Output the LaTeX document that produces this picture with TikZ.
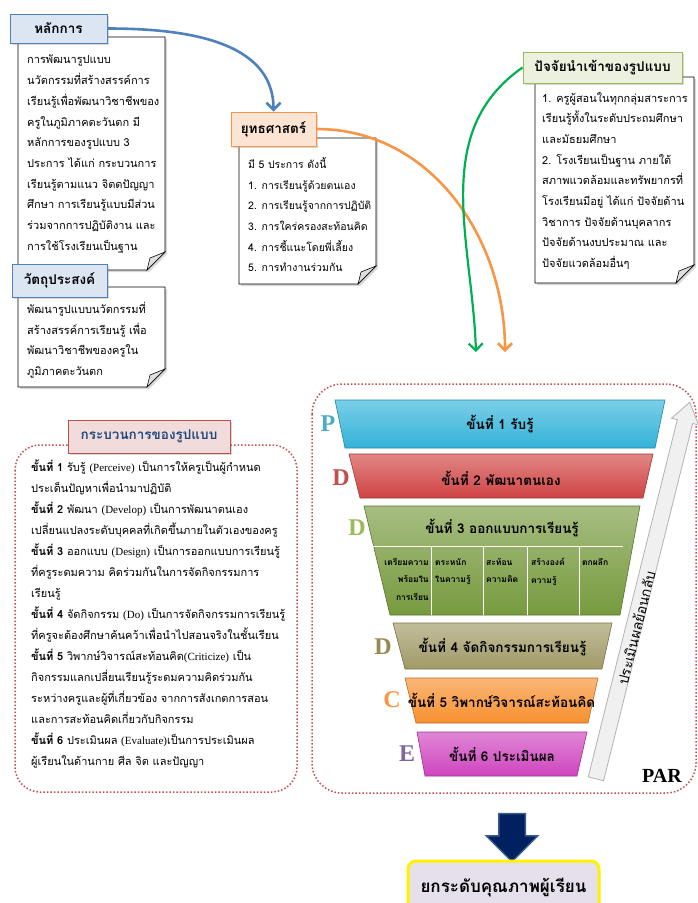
\documentclass[tikz,border=0pt]{standalone}
\usepackage{fontspec}
\setmainfont{Liberation Serif}
\newfontfamily\thaifont[Script=Thai]{Loma}
\usetikzlibrary{positioning,shapes.arrows,arrows.meta,shadows}
\definecolor{hdrblue}{HTML}{DCE6F2}
\definecolor{lineblue}{HTML}{4F81BD}
\definecolor{hdrorange}{HTML}{FCE4D2}
\definecolor{lineorange}{HTML}{F79646}
\definecolor{hdrgreen}{HTML}{EBF1DE}
\definecolor{linegreen}{HTML}{9BBB59}
\definecolor{hdrpink}{HTML}{F2DCDB}
\definecolor{linepink}{HTML}{C0504D}
\definecolor{txtnavy}{HTML}{1F497D}
\definecolor{arrowgreen}{HTML}{00B050}
\definecolor{dotred}{HTML}{C0504D}
\definecolor{stepcyan}{HTML}{33B3D9}
\definecolor{stepred}{HTML}{D04444}
\definecolor{stepgreen}{HTML}{779A3E}
\definecolor{stepolive}{HTML}{A09A66}
\definecolor{steporange}{HTML}{F7902F}
\definecolor{stepmagenta}{HTML}{CF45BF}
\definecolor{ltrcyan}{HTML}{4BACC6}
\definecolor{ltrred}{HTML}{C0504D}
\definecolor{ltrgreen}{HTML}{9BBB59}
\definecolor{ltrolive}{HTML}{948A54}
\definecolor{ltrorange}{HTML}{F79646}
\definecolor{ltrpurple}{HTML}{8064A2}
\definecolor{navy}{HTML}{002060}
\definecolor{navyline}{HTML}{385D8A}
\definecolor{lavender}{HTML}{E6E0EC}
\newcommand{\en}[1]{{\rmfamily #1}}
\newcommand{\notepaper}[4]{%
  \draw[note] (#1,#2) -- (#3,#2) -- (#3,#4-18) -- (#3-18,#4) -- (#1,#4) -- cycle;
  \draw[fold] (#3,#4-18) -- (#3-15,#4-12) -- (#3-18,#4) -- cycle;}

\begin{document}
\begin{tikzpicture}[x=1pt,y=-1pt,
    note/.style={draw=black, line width=0.8pt, fill=white, drop shadow={opacity=0.3,shadow xshift=2pt,shadow yshift=-2pt}},
    fold/.style={draw=black, line width=0.6pt, fill=gray!25},
    notetext/.style={anchor=north west, inner sep=0pt, align=left, font=\thaifont\fontsize{11}{20.7}\selectfont},
    hdr/.style={draw, line width=1pt, inner sep=2pt, font=\thaifont\bfseries\fontsize{13.5}{15}\selectfont, drop shadow={opacity=0.3,shadow xshift=2pt,shadow yshift=-2pt}},
    link/.style={line width=2.6pt, -{Straight Barb[length=7pt,width=14pt]}},
    dotbox/.style={draw=dotred, line width=1.5pt, dotted, rounded corners=25pt},
    layer/.style={draw=#1!75!black, line width=0.6pt, top color=#1!65!white, bottom color=#1},
    steptext/.style={font=\thaifont\bfseries\fontsize{13.5}{15}\selectfont},
    letter/.style={font=\bfseries\fontsize{24}{26}\selectfont},
    cell/.style={inner sep=0pt, font=\thaifont\bfseries\fontsize{8.5}{17.5}\selectfont},
    fbarrow/.style={single arrow, draw=gray!60, fill=gray!12, line width=0.8pt, inner sep=7.5pt, single arrow head extend=6pt, single arrow tip angle=70, minimum height=388pt},
    blockarrow/.style={single arrow, draw=navyline, fill=navy, line width=1.5pt, inner sep=12.5pt, single arrow head extend=12.5pt, minimum height=48pt},
    result/.style={draw=yellow, line width=3pt, fill=lavender, rounded corners=8pt, minimum width=191pt, minimum height=54pt, font=\thaifont\bfseries\fontsize{17}{19}\selectfont}]
\useasboundingbox (0,0) rectangle (698,903);
\fill[white] (0,0) rectangle (698,903);

\notepaper{18}{37}{165}{270}
\notepaper{18}{287}{165}{387}
\notepaper{239}{138}{376}{284}
\notepaper{535}{77}{694}{283}

\node[notetext] (lakbody) at (27,55) {การพัฒนารูปแบบ\\
นวัตกรรมที่สร้างสรรค์การ\\
เรียนรู้เพื่อพัฒนาวิชาชีพของ\\
ครูในภูมิภาคตะวันตก  มี\\
หลักการของรูปแบบ 3\\
ประการ  ได้แก่ กระบวนการ\\
เรียนรู้ตามแนว  จิตตปัญญา\\
ศึกษา การเรียนรู้แบบมีส่วน\\
ร่วมจากการปฏิบัติงาน และ\\
การใช้โรงเรียนเป็นฐาน};
\node[notetext] (watbody) at (27,302) {พัฒนารูปแบบนวัตกรรมที่\\
สร้างสรรค์การเรียนรู้ เพื่อ\\
พัฒนาวิชาชีพของครูใน\\
ภูมิภาคตะวันตก};
\node[notetext, font=\thaifont\fontsize{10.5}{20.7}\selectfont] (yutbody) at (248,157) {มี 5 ประการ ดังนี้\\
1. การเรียนรู้ด้วยตนเอง\\
2. การเรียนรู้จากการปฏิบัติ\\
3. การใคร่ครองสะท้อนคิด\\
4. การชี้แนะโดยพี่เลี้ยง\\
5. การทำงานร่วมกัน};
\node[notetext] (patbody) at (542,92) {1. ครูผู้สอนในทุกกลุ่มสาระการ\\
เรียนรู้ทั้งในระดับประถมศึกษา\\
และมัธยมศึกษา\\
2. โรงเรียนเป็นฐาน ภายใต้\\
สภาพแวดล้อมและทรัพยากรที่\\
โรงเรียนมีอยู่ ได้แก่ ปัจจัยด้าน\\
วิชาการ ปัจจัยด้านบุคลากร\\
ปัจจัยด้านงบประมาณ และ\\
ปัจจัยแวดล้อมอื่นๆ};

\node[hdr, fill=hdrblue, draw=lineblue, minimum width=97pt, minimum height=29pt] (lak) at (58.5,28.5) {หลักการ};
\node[hdr, fill=hdrblue, draw=lineblue, minimum width=95pt, minimum height=33pt] (wat) at (59.5,280.5) {วัตถุประสงค์};
\node[hdr, fill=hdrorange, draw=lineorange, minimum width=85pt, minimum height=34pt] (yut) at (273.5,129) {ยุทธศาสตร์};
\node[hdr, fill=hdrgreen, draw=linegreen, minimum width=159pt, minimum height=31pt] (pat) at (602.5,67.5) {ปัจจัยนำเข้าของรูปแบบ};

\coordinate (gend) at (476,352);
\coordinate (oend) at (505,352);
\draw[link, lineblue] (lak.east) to[out=0, in=90] (yut.north);
\draw[link, lineorange] (yut.east) to[out=0, in=90] (oend);
\draw[link, arrowgreen, line width=2.2pt] (pat.west) to[out=215, in=92] (gend);

\draw[dotbox] (15,445) rectangle (297,792);
\draw[dotbox, rounded corners=30pt] (312,384) rectangle (696,793);
\node[hdr, fill=hdrpink, draw=linepink, text=txtnavy, minimum width=162pt, minimum height=33pt] (krab) at (149,436.5) {กระบวนการของรูปแบบ};
\node[notetext, font=\thaifont\fontsize{11}{21}\selectfont] (krabbody) at (31,460) {\textbf{ขั้นที่ 1}  รับรู้  \en{(Perceive)} เป็นการให้ครูเป็นผู้กำหนด\\
ประเด็นปัญหาเพื่อนำมาปฏิบัติ\\
\textbf{ขั้นที่ 2} พัฒนา \en{(Develop)} เป็นการพัฒนาตนเอง\\
เปลี่ยนแปลงระดับบุคคลที่เกิดขึ้นภายในตัวเองของครู\\
\textbf{ขั้นที่ 3} ออกแบบ \en{(Design)} เป็นการออกแบบการเรียนรู้\\
ที่ครูระดมความ คิดร่วมกันในการจัดกิจกรรมการ\\
เรียนรู้\\
\textbf{ขั้นที่ 4} จัดกิจกรรม \en{(Do)} เป็นการจัดกิจกรรมการเรียนรู้\\
ที่ครูจะต้องศึกษาค้นคว้าเพื่อนำไปสอนจริงในชั้นเรียน\\
\textbf{ขั้นที่ 5} วิพากษ์วิจารณ์สะท้อนคิด\en{(Criticize)} เป็น\\
กิจกรรมแลกเปลี่ยนเรียนรู้ระดมความคิดร่วมกัน\\
ระหว่างครูและผู้ที่เกี่ยวข้อง จากการสังเกตการสอน\\
และการสะท้อนคิดเกี่ยวกับกิจกรรม\\
\textbf{ขั้นที่ 6} ประเมินผล \en{(Evaluate)}เป็นการประเมินผล\\
ผู้เรียนในด้านกาย ศีล จิต และปัญญา};

\node[fbarrow, rotate=76] (fb) at (641.5,596) {};
\node[rotate=76, inner sep=0pt, font=\thaifont\fontsize{14}{15}\selectfont] (fbtxt) at (636,628) {ประเมินผลย้อนกลับ};

\foreach \n/\yt/\yb/\xa/\xb/\xc/\xd/\ty/\col/\lx/\ltr/\lc/\txt in {
  1/400/448/335/665/345/655/424/stepcyan/328/P/ltrcyan/ขั้นที่ 1 รับรู้,
  2/454/498/349/653/360/643/478/stepred/341/D/ltrred/ขั้นที่ 2 พัฒนาตนเอง,
  3/506/615/364/640/390/620/528/stepgreen/357/D/ltrgreen/ขั้นที่ 3 ออกแบบการเรียนรู้,
  4/623/669/393/612/405/602/647/stepolive/383/D/ltrolive/ขั้นที่ 4 จัดกิจกรรมการเรียนรู้,
  5/678/723/405/598/416/588/700/steporange/392/C/ltrorange/ขั้นที่ 5 วิพากษ์วิจารณ์สะท้อนคิด,
  6/732/776/417/587/425/577/754/stepmagenta/407/E/ltrpurple/ขั้นที่ 6 ประเมินผล}{
  \path[layer=\col] (\xa,\yt) -- (\xb,\yt) -- (\xd,\yb) -- (\xc,\yb) -- cycle;
  \node[steptext] (s\n) at ({(\xa+\xb)/2},\ty) {\txt};
  \node[letter, text=\lc] (l\n) at (\lx,\ty) {\ltr};
}
\draw[white, line width=0.8pt] (372,546) -- (623,546);
\foreach \x in {431,483,527,579}
  \draw[white, line width=0.8pt] (\x,546) -- (\x,615);
\node[cell, anchor=north east, align=right] (c1) at (429,558) {เตรียมความ\\พร้อมใน\\การเรียน};
\node[cell, anchor=north west, align=left] (c2) at (435,558) {ตระหนัก\\ในความรู้};
\node[cell, anchor=north west, align=left] (c3) at (486,558) {สะท้อน\\ความคิด};
\node[cell, anchor=north west, align=left] (c4) at (531,558) {สร้างองค์\\ความรู้};
\node[cell, anchor=north west, align=left] (c5) at (582,558) {ตกผลึก};

\node[font=\bfseries\fontsize{20}{22}\selectfont] (par) at (662,776) {PAR};

\node[blockarrow, rotate=-90] (down) at (512,831) {};
\node[result] (res) at (503.5,888) {ยกระดับคุณภาพผู้เรียน};
\end{tikzpicture}
\end{document}
